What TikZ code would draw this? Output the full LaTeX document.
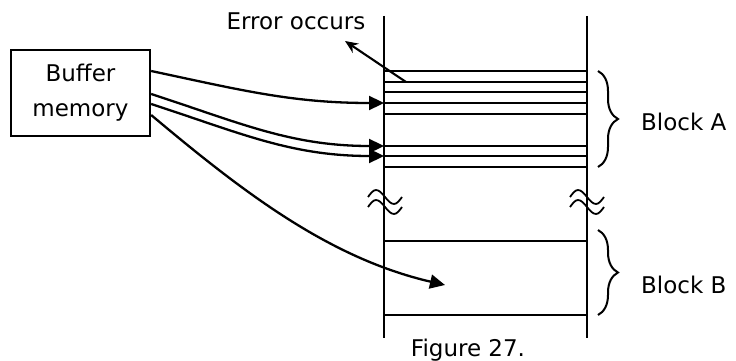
\documentclass[tikz,border=0pt]{standalone}
\usepackage{fontspec}
\setmainfont{DejaVu Sans}
\usepackage{tikz}
\usetikzlibrary{positioning, arrows.meta, decorations.pathreplacing}

\begin{document}
\begin{tikzpicture}[
  x=1pt, y=-1pt,
  font=\fontsize{23}{35}\selectfont,
  >=Latex,
  every node/.style={align=center, inner sep=0pt},
  buffer/.style={draw, line width=2.3pt, minimum width=139pt, minimum height=86pt},
  rule/.style  ={line width=2.3pt},
  feed/.style  ={line width=2.3pt, -{Triangle[length=15pt, width=14pt]}},
  hint/.style  ={line width=2.1pt, -{Stealth[length=13pt, width=11pt]}},
  brk/.style   ={line width=1.8pt},
  blockbrace/.style={line width=2pt, decorate, decoration={brace, amplitude=20pt}},
]
\useasboundingbox (0,0) rectangle (736,361);

% ---- Buffer and the memory strip ------------------------------------------
\node[buffer] (buf) at (80.5,93) {Buffer\\memory};

\coordinate (lt) at (384,16);  \coordinate (lb) at (384,338);
\coordinate (rt) at (587,16);  \coordinate (rb) at (587,338);
\draw[rule] (lt) -- (lb);
\draw[rule] (rt) -- (rb);

% rows of block A and the two rows of block B
\foreach \y in {71, 82, 92, 103, 114, 146, 156, 167, 241, 315}
  \draw[rule] (384,\y) -- (587,\y);

% break marks on both rails
\foreach \x in {368, 570}
  \foreach \dy in {0, 10}
    \draw[brk] (\x,197+\dy) sin ++(8,-7) cos ++(9,7) sin ++(9,7) cos ++(8,-7);

% ---- Transfers from the buffer ----------------------------------------------
\coordinate (a1) at (384,103);
\coordinate (a2) at (384,146);
\coordinate (a3) at (384,156);
\coordinate (b1) at (445,285);
\draw[feed] ([yshift=22pt]buf.east)  to[out=-12, in=180] (a1);
\draw[feed] ([yshift=-1pt]buf.east)  to[out=-18, in=180] (a2);
\draw[feed] ([yshift=-11pt]buf.east) to[out=-18, in=180] (a3);
\draw[feed] ([yshift=-22pt]buf.east) to[out=-40, in=167, looseness=0.9] (b1);

% ---- Error marker -------------------------------------------------------------
\node (err) at (296,21) {Error occurs};
\coordinate (e0) at (406,82);
\coordinate (e1) at (345,41);
\draw[hint] (e0) -- (e1);

% ---- Blocks --------------------------------------------------------------------
\draw[blockbrace] (598,71) -- (598,167);
\draw[blockbrace] (598,230) -- (598,315);
\node[anchor=west] (blka) at (641,122) {Block A};
\node[anchor=west] (blkb) at (641,285) {Block B};

\node (cap) at (468,350) {Figure 27.};
\end{tikzpicture}
\end{document}
